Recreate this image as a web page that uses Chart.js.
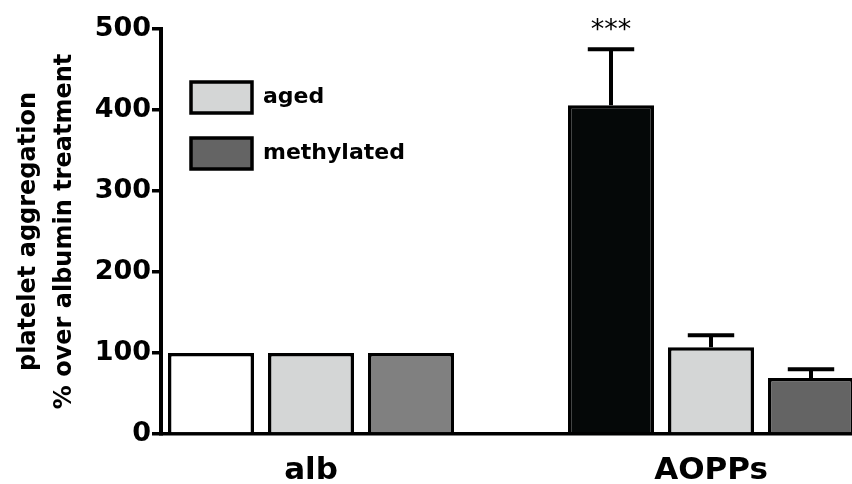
<!DOCTYPE html>
<html><head><meta charset="utf-8">
<script src="https://cdn.jsdelivr.net/npm/chart.js@4/dist/chart.umd.min.js"></script>
<style>html,body{margin:0;padding:0;background:#fff;overflow:hidden}#wrap{width:852px;height:484px;position:relative}</style>
</head><body><div id="wrap"><canvas id="c" width="852" height="484"></canvas></div>
<script>
// ---- data ----
const categories = ['alb', 'AOPPs'];
const seriesNames = ['control', 'aged', 'methylated'];
const controlValues = [100, 406];
const agedValues = [100, 107];
const methylatedValues = [100, 69];
const controlErrors = [0, 69];
const agedErrors = [0, 15];
const methylatedErrors = [0, 11];
const controlStars = ['', '***'];
const yTicks = [0, 100, 200, 300, 400, 500];
const yTitle = ['platelet aggregation', '% over albumin treatment'];
const legendShown = ['aged', 'methylated'];

const toPoints = (vals) => vals.map((v, i) => ({x: i, y: v}));
const FONT = 'DejaVu Sans';

const barCommon = {borderColor: '#000', borderWidth: 3.5, categoryPercentage: 0.75, barPercentage: 0.86};
const datasets = [
  Object.assign({label: seriesNames[0], data: toPoints(controlValues), backgroundColor: ['#ffffff', '#050808'], errors: controlErrors, stars: controlStars}, barCommon),
  Object.assign({label: seriesNames[1], data: toPoints(agedValues), backgroundColor: ['#d4d6d6', '#d4d6d6'], errors: agedErrors}, barCommon),
  Object.assign({label: seriesNames[2], data: toPoints(methylatedValues), backgroundColor: ['#808080', '#646464'], errors: methylatedErrors}, barCommon)
];

const errorBarPlugin = {
  id: 'errorBars',
  afterDatasetsDraw(chart) {
    const ctx = chart.ctx;
    const ys = chart.scales.y;
    chart.data.datasets.forEach((ds, di) => {
      const meta = chart.getDatasetMeta(di);
      meta.data.forEach((bar, i) => {
        const err = ds.errors ? ds.errors[i] : 0;
        const val = ds.data[i].y;
        const top = ys.getPixelForValue(val + err);
        if (err > 0) {
          const half = bar.width * 0.27;
          ctx.save();
          ctx.strokeStyle = '#000';
          ctx.lineWidth = 4;
          ctx.beginPath();
          ctx.moveTo(bar.x, bar.y);
          ctx.lineTo(bar.x, top);
          ctx.moveTo(bar.x - half, top);
          ctx.lineTo(bar.x + half, top);
          ctx.stroke();
          ctx.restore();
        }
        if (ds.stars && ds.stars[i]) {
          ctx.save();
          ctx.fillStyle = '#000';
          ctx.font = '27px "' + FONT + '"';
          ctx.textAlign = 'center';
          ctx.textBaseline = 'alphabetic';
          ctx.fillText(ds.stars[i], bar.x, top - 11);
          ctx.restore();
        }
      });
    });
  }
};

const legendPlace = {
  id: 'legendPlace',
  afterLayout(chart) {
    const lg = chart.legend;
    if (!lg) return;
    const a = chart.chartArea;
    const w = lg.width, h = lg.height;
    lg.left = a.left + 5;
    lg.top = a.top + 28;
    lg.right = lg.left + w;
    lg.bottom = lg.top + h;
  }
};

Chart.defaults.color = '#000';

new Chart(document.getElementById('c'), {
  type: 'bar',
  data: {datasets},
  plugins: [errorBarPlugin, legendPlace],
  options: {
    responsive: false,
    devicePixelRatio: 1,
    animation: false,
    layout: {padding: {top: 29, left: 0, right: 0, bottom: 0}},
    plugins: {
      tooltip: {enabled: false},
      legend: {
        position: 'chartArea',
        align: 'start',
        labels: {
          boxWidth: 61, boxHeight: 31, padding: 25, color: '#000',
          font: {family: FONT, weight: 'bold', size: 22},
          generateLabels(chart) {
            return chart.data.datasets.map((ds, i) => ({
              text: ds.label,
              fillStyle: ds.backgroundColor[ds.backgroundColor.length - 1],
              strokeStyle: '#000',
              lineWidth: 3.5,
              hidden: false,
              datasetIndex: i,
              fontColor: '#000'
            })).filter(it => legendShown.includes(it.text));
          }
        }
      }
    },
    scales: {
      x: {
        type: 'linear',
        offset: false,
        min: -0.375,
        max: 1.3525,
        afterBuildTicks(s) { s.ticks = categories.map((c, i) => ({value: i})); },
        afterFit(s) { s.height = 50; },
        ticks: {
          color: '#000', padding: 18, maxRotation: 0, autoSkip: false,
          font: {family: FONT, weight: 'bold', size: 31},
          callback: (v) => (categories[v] !== undefined ? categories[v] : '')
        },
        grid: {display: false, drawTicks: false, offset: false},
        border: {display: true, color: '#000', width: 3.5}
      },
      y: {
        min: 0,
        max: 500,
        afterBuildTicks(s) { s.ticks = yTicks.map(v => ({value: v})); },
        afterFit(s) { s.width = 161; },
        ticks: {color: '#000', padding: 1, font: {family: FONT, weight: 'bold', size: 27}},
        grid: {drawOnChartArea: false, drawTicks: true, tickLength: 9, color: '#000', lineWidth: 3.5},
        border: {display: true, color: '#000', width: 4},
        title: {
          display: true, text: yTitle, color: '#000',
          font: {family: FONT, weight: 'bold', size: 24, lineHeight: 1.5},
          padding: {top: 11, bottom: 0}
        }
      }
    }
  }
});
</script>
</body></html>
